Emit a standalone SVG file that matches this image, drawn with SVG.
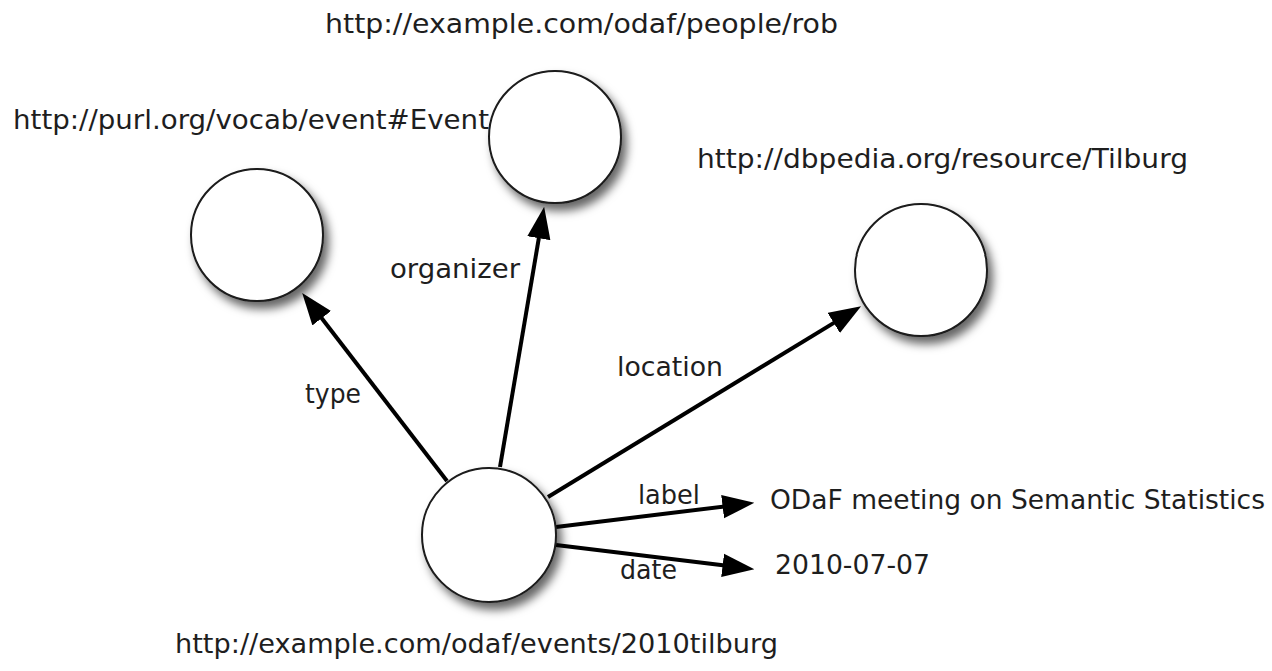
<svg xmlns="http://www.w3.org/2000/svg" width="1272" height="671" viewBox="0 0 1272 671">
  <style>
    .node { fill: #ffffff; stroke: #1a1a1a; stroke-width: 2; filter: url(#shadow); }
    .edge { stroke: #000000; stroke-width: 4; fill: none; marker-end: url(#arrow); }
    text { font-family: "DejaVu Sans", "Liberation Sans", sans-serif; font-size: 27px; fill: #1e1e1e; }
  </style>
  <defs>
    <filter id="shadow" x="-30%" y="-30%" width="170%" height="170%">
      <feDropShadow dx="5" dy="7" stdDeviation="5" flood-color="#000" flood-opacity="0.6"/>
    </filter>
    <marker id="arrow" markerUnits="userSpaceOnUse" markerWidth="32" markerHeight="24" viewBox="0 0 30 22" refX="10" refY="11" orient="auto">
      <path d="M0,0 L30,11 L0,22 z" fill="#000"/>
    </marker>
  </defs>
  <rect width="1272" height="671" fill="#ffffff"/>

  <text x="13" y="129" textLength="476" lengthAdjust="spacingAndGlyphs">http://purl.org/vocab/event#Event</text>

  <g id="connectors">
    <line class="edge" x1="447" y1="481" x2="315.2" y2="309.8"/>
    <line class="edge" x1="500" y1="467" x2="540.6" y2="227.7"/>
    <line class="edge" x1="548" y1="497" x2="842.9" y2="317.4"/>
    <line class="edge" x1="556" y1="527" x2="733.2" y2="505.4"/>
    <line class="edge" x1="556" y1="545" x2="733.2" y2="566.6"/>
    <text x="305" y="403" textLength="56" lengthAdjust="spacingAndGlyphs">type</text>
    <text x="390" y="278" textLength="130" lengthAdjust="spacingAndGlyphs">organizer</text>
    <text x="617" y="376" textLength="106" lengthAdjust="spacingAndGlyphs">location</text>
    <text x="638" y="504" textLength="62" lengthAdjust="spacingAndGlyphs">label</text>
    <text x="620" y="579" textLength="57" lengthAdjust="spacingAndGlyphs">date</text>
  </g>

  <g id="event-type">
    <circle class="node" cx="257" cy="235" r="66"/>
  </g>
  <g id="organizer-rob">
    <circle class="node" cx="555" cy="137" r="66"/>
    <text x="325" y="33" textLength="513" lengthAdjust="spacingAndGlyphs">http://example.com/odaf/people/rob</text>
  </g>
  <g id="location-tilburg">
    <circle class="node" cx="921" cy="270" r="66"/>
    <text x="697" y="168" textLength="491" lengthAdjust="spacingAndGlyphs">http://dbpedia.org/resource/Tilburg</text>
  </g>
  <g id="event-2010tilburg">
    <circle class="node" cx="489" cy="535" r="67"/>
    <text x="175" y="653" textLength="603" lengthAdjust="spacingAndGlyphs">http://example.com/odaf/events/2010tilburg</text>
  </g>
  <g id="label-literal">
    <text x="770" y="509" textLength="495" lengthAdjust="spacingAndGlyphs">ODaF meeting on Semantic Statistics</text>
  </g>
  <g id="date-literal">
    <text x="775" y="574" textLength="155" lengthAdjust="spacingAndGlyphs">2010-07-07</text>
  </g>
</svg>
